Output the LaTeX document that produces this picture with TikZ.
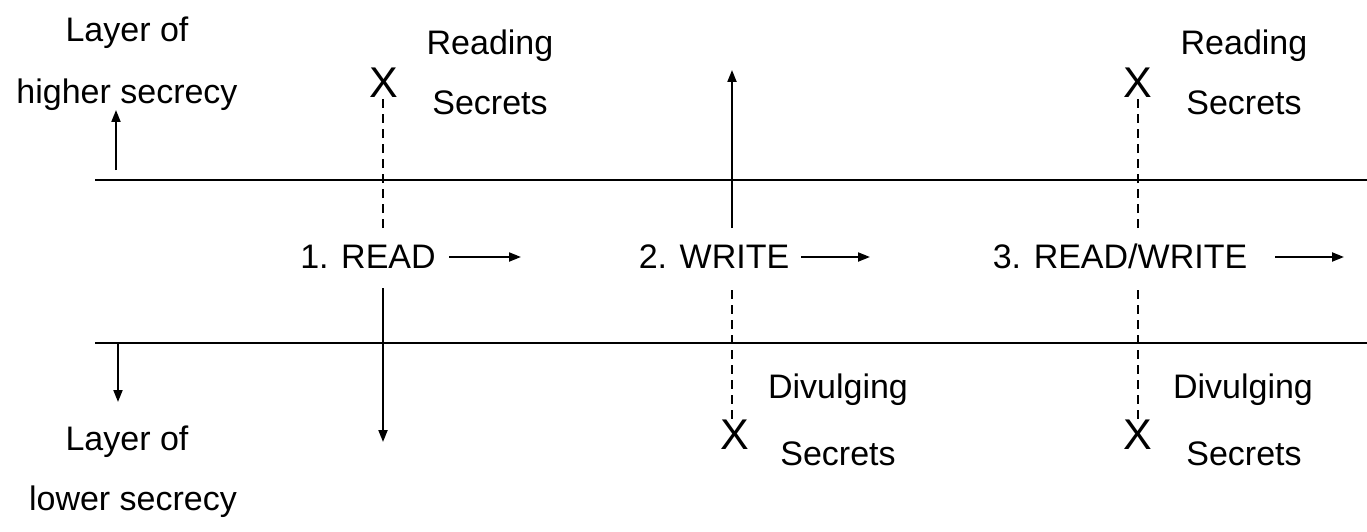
\documentclass[tikz,border=0pt]{standalone}
\usepackage{fontspec}
\setmainfont{Liberation Sans}
\usetikzlibrary{arrows.meta}
\begin{document}
\begin{tikzpicture}[x=1pt,y=-1pt,
  lbl/.style={font=\fontsize{34}{40}\selectfont, inner sep=0pt, anchor=base},
  cross/.style={font=\fontsize{43}{50}\selectfont, inner sep=0pt},
  ln/.style={line width=2pt},
  arr/.style={line width=2pt,-{Triangle[length=12pt,width=9pt]}},
  dsh/.style={line width=2pt, dash pattern=on 9pt off 6pt}]
\useasboundingbox (0,0) rectangle (1367,532);
% layer lines
\coordinate (t1) at (95,180);
\coordinate (t2) at (1367,180);
\coordinate (b1) at (95,343);
\coordinate (b2) at (1367,343);
\draw[ln] (t1) -- (t2);
\draw[ln] (b1) -- (b2);
% left labels
\node[lbl] (hl1) at (127,42) {Layer of};
\node[lbl] (hl2) at (127,103) {higher secrecy};
\coordinate (ua1) at (116,170);
\coordinate (ua2) at (116,110);
\draw[arr] (ua1) -- (ua2);
\coordinate (da1) at (118,343);
\coordinate (da2) at (118,402);
\draw[arr] (da1) -- (da2);
\node[lbl] (ll1) at (127,450) {Layer of};
\node[lbl] (ll2) at (133,510) {lower secrecy};
% 1. READ
\node[lbl] (r1) at (368,268) {1. READ};
\coordinate (r1a) at (449,257);
\coordinate (r1b) at (521,257);
\draw[arr] (r1a) -- (r1b);
\node[cross] (x1) at (384,83) {X};
\coordinate (x1d) at (383,228);
\draw[dsh] (x1d) -- (x1d |- x1.south);
\node[lbl] (rs1) at (490,55) {Reading};
\node[lbl] (rs2) at (490,115) {Secrets};
\coordinate (r1d1) at (383,288);
\coordinate (r1d2) at (383,442);
\draw[arr] (r1d1) -- (r1d2);
% 2. WRITE
\node[lbl] (w2) at (714,268) {2. WRITE};
\coordinate (w2a) at (801,257);
\coordinate (w2b) at (870,257);
\draw[arr] (w2a) -- (w2b);
\coordinate (w2u1) at (732,228);
\coordinate (w2u2) at (732,70);
\draw[arr] (w2u1) -- (w2u2);
\node[cross] (x2) at (735,435) {X};
\coordinate (w2d) at (732,290);
\draw[dsh] (w2d) -- (w2d |- x2.north);
\node[lbl] (dv1) at (838,398) {Divulging};
\node[lbl] (dv2) at (838,465) {Secrets};
% 3. READ/WRITE
\node[lbl] (rw3) at (1120,268) {3. READ/WRITE};
\coordinate (rw3a) at (1275,257);
\coordinate (rw3b) at (1344,257);
\draw[arr] (rw3a) -- (rw3b);
\node[cross] (x3) at (1138,83) {X};
\coordinate (x3d) at (1138,228);
\draw[dsh] (x3d) -- (x3d |- x3.south);
\node[lbl] (rs3) at (1244,55) {Reading};
\node[lbl] (rs4) at (1244,115) {Secrets};
\node[cross] (x4) at (1138,435) {X};
\coordinate (x4d) at (1138,290);
\draw[dsh] (x4d) -- (x4d |- x4.north);
\node[lbl] (dv3) at (1243,398) {Divulging};
\node[lbl] (dv4) at (1244,465) {Secrets};
\end{tikzpicture}
\end{document}
